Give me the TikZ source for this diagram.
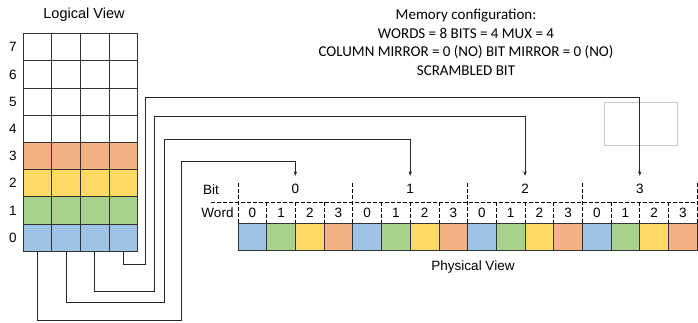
\documentclass[tikz,border=0pt]{standalone}
\usepackage{fontspec}
\setmainfont{Liberation Sans}
\newfontfamily\cfgfont{Carlito}
\usetikzlibrary{arrows.meta}
\definecolor{cblue}{HTML}{9DC3E6}
\definecolor{cgreen}{HTML}{A9D18E}
\definecolor{cyellow}{HTML}{FFD966}
\definecolor{corange}{HTML}{F4B183}
\begin{document}
\begin{tikzpicture}[x=1pt, y=-1pt,
  cell/.style={draw=black!80, line width=0.7pt, minimum width=28.7pt, minimum height=27.2pt, inner sep=0pt, outer sep=0pt},
  lbl/.style={font=\fontsize{13.5}{15}\selectfont, inner sep=0pt},
  bitlbl/.style={lbl, minimum height=26pt},
  wire/.style={line width=0.7pt, black!85},
  arr/.style={wire, -{Stealth[length=4.5pt, width=3.5pt]}},
  sep/.style={line width=0.7pt, dash pattern=on 3.5pt off 2.5pt}]
\useasboundingbox (0,0) rectangle (698,323);
%% Config text
\node[font=\cfgfont\fontsize{15}{18.5}\selectfont, align=center] (cfg) at (466,42.5)
  {Memory configuration:\\WORDS = 8 BITS = 4 MUX = 4\\COLUMN MIRROR = 0 (NO) BIT MIRROR = 0 (NO)\\SCRAMBLED BIT};
\node[draw=black!22, line width=0.7pt, minimum width=73pt, minimum height=43pt] (blank) at (640.5,123.5) {};
%% Logical view
\node[lbl, font=\fontsize{14.5}{16}\selectfont] (logical) at (84,15) {Logical View};
\foreach \r/\clr in {0/cblue,1/cgreen,2/cyellow,3/corange,4/white,5/white,6/white,7/white}{
  \node[lbl] (R\r) at (13, {237.6-27.2*\r}) {\r};
  \foreach \c in {0,...,3}
    \node[cell, fill=\clr] (L\r\c) at ({37.35+28.7*\c}, {237.6-27.2*\r}) {};
}
%% Physical view
\node[lbl] (bit) at (211,189.5) {Bit};
\node[lbl] (word) at (217.5,213) {Word};
\foreach \b in {0,...,3}{
  \node[bitlbl] (B\b) at ({295.4+114.8*\b}, 189) {\b};
  \foreach \w/\clr in {0/cblue,1/cgreen,2/cyellow,3/corange}{
    \node[cell, minimum height=27pt, fill=\clr] (P\b\w) at ({252.35+28.7*(4*\b+\w)}, 236.5) {};
    \node[lbl] (W\b\w) at ({252.35+28.7*(4*\b+\w)}, 212.5) {\w};
  }
}
\node[lbl] (physical) at (473,267) {Physical View};
%% Dashed separators
\draw[sep] (211,202) -- (697,202);
\foreach \b in {0,...,4}
  \draw[sep] ({238+114.8*\b},183) -- ({238+114.8*\b},223);
\foreach \i in {1,2,3,5,6,7,9,10,11,13,14,15}
  \draw[sep] ({238+28.7*\i},202) -- ({238+28.7*\i},223);
%% Lines
\foreach \c/\dx/\dy/\up in {0/181/320/161, 1/164/302/139, 2/154/291/116, 3/145/264/97.5}
  \draw[arr] (L0\c.south) |- (\dx,\dy) -- (\dx,\up) -| (B\c.north);
\end{tikzpicture}
\end{document}
